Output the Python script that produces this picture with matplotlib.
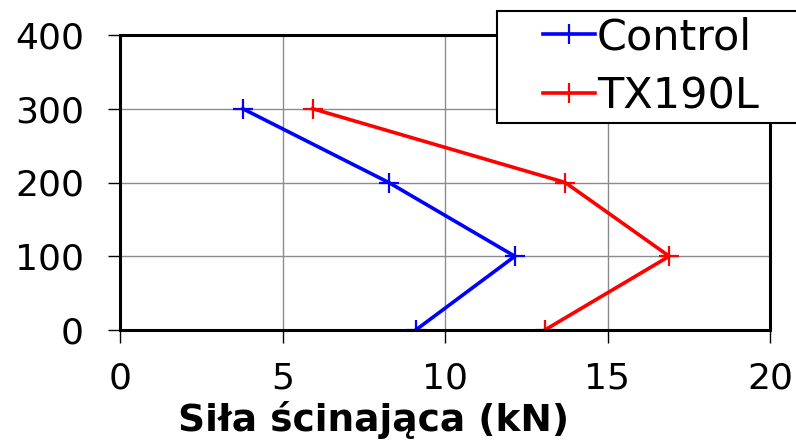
import matplotlib
matplotlib.use("Agg")
import matplotlib.pyplot as plt
from matplotlib.legend_handler import HandlerLine2D

# values
heights = [0, 100, 200, 300]
control = [9.1, 12.15, 8.27, 3.78]
tx190l = [13.07, 16.9, 13.7, 5.93]
xticks = [0, 5, 10, 15, 20]
yticks = [0, 100, 200, 300, 400]

fig = plt.figure(figsize=(7.96, 4.46), dpi=100)
ax = fig.add_axes([120 / 796, 116 / 446, 650 / 796, 295 / 446])

ax.plot(control, heights, color='#0000ff', lw=2.6, marker='+', ms=15, mew=1.6, label='Control')
ax.plot(tx190l, heights, color='#ff0000', lw=2.6, marker='+', ms=15, mew=1.6, label='TX190L')

ax.set_xlim(0, 20)
ax.set_ylim(0, 400)
ax.set_xticks(xticks)
ax.set_yticks(yticks)
ax.grid(True, color='#8c8c8c', lw=1)
ax.set_axisbelow(True)
for s in ax.spines.values():
    s.set_linewidth(2.2)
    s.set_color('black')
ax.tick_params(axis='both', direction='out', length=9, width=1, labelsize=26)
ax.tick_params(axis='y', pad=17)
ax.tick_params(axis='x', pad=14)

ax.set_xlabel('Siła ścinająca (kN)', fontsize=27, fontweight='bold', va='baseline')
ax.xaxis.set_label_coords((374 - 120) / 650, (330 - 431) / 295)

# legend box runs off the right edge of the picture
hm = {l: HandlerLine2D(xpad=0.95) for l in ax.get_lines()}
leg = ax.legend(loc='upper left', bbox_to_anchor=(497 / 796, 1 - 11 / 446, 0.42, 0),
                bbox_transform=fig.transFigure, mode='expand', fontsize=31,
                frameon=True, fancybox=False, framealpha=1, edgecolor='black',
                borderpad=0.12, borderaxespad=0, handlelength=2.15, handletextpad=0.05,
                labelspacing=0.4, handler_map=hm)
leg.get_frame().set_linewidth(1.5)

fig.savefig('out.png', dpi=100)
